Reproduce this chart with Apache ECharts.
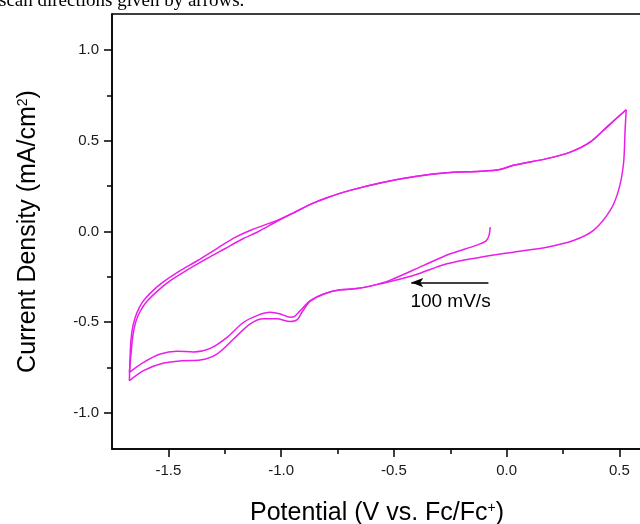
<!DOCTYPE html>
<html><head><meta charset="utf-8">
<script src="https://cdn.jsdelivr.net/npm/echarts@6/dist/echarts.min.js"></script>
<style>html,body{margin:0;padding:0;background:#fff;overflow:hidden}#c{width:640px;height:524px}</style>
</head><body><div id="c"></div>
<script>
// Potential (V vs Fc/Fc+), current density (mA/cm2)
const cycle1Cathodic = [
  [-0.073, 0.024], [-0.078, -0.020], [-0.090, -0.050], [-0.132, -0.075],
  [-0.250, -0.123], [-0.370, -0.188], [-0.516, -0.268], [-0.600, -0.300],
  [-0.664, -0.315], [-0.738, -0.322], [-0.812, -0.344], [-0.871, -0.381],
  [-0.915, -0.436], [-0.940, -0.468], [-0.960, -0.473], [-1.004, -0.455],
  [-1.048, -0.446], [-1.107, -0.464], [-1.168, -0.502], [-1.240, -0.584],
  [-1.314, -0.645], [-1.388, -0.665], [-1.462, -0.660], [-1.536, -0.676],
  [-1.610, -0.722], [-1.673, -0.777]
];
const cycle1Anodic = [
  [-1.673, -0.777], [-1.666, -0.680], [-1.658, -0.580], [-1.645, -0.500],
  [-1.625, -0.440], [-1.595, -0.385], [-1.550, -0.330], [-1.490, -0.270],
  [-1.420, -0.215], [-1.330, -0.150], [-1.250, -0.095], [-1.170, -0.040],
  [-1.100, 0.000], [-1.020, 0.055], [-0.950, 0.100], [-0.870, 0.150],
  [-0.800, 0.185], [-0.694, 0.227], [-0.546, 0.272], [-0.398, 0.305],
  [-0.250, 0.325], [-0.117, 0.332], [-0.030, 0.342], [0.030, 0.365],
  [0.178, 0.402], [0.282, 0.438], [0.370, 0.493], [0.444, 0.576],
  [0.530, 0.672]
];
const cycle2Cathodic = [
  [0.530, 0.672], [0.525, 0.558], [0.518, 0.374], [0.496, 0.227],
  [0.459, 0.116], [0.385, 0.006], [0.296, -0.050], [0.178, -0.087],
  [0.030, -0.114], [-0.117, -0.142], [-0.265, -0.178], [-0.414, -0.243],
  [-0.561, -0.289], [-0.664, -0.315], [-0.738, -0.322], [-0.812, -0.346],
  [-0.871, -0.385], [-0.905, -0.440], [-0.930, -0.488], [-0.960, -0.497],
  [-1.019, -0.482], [-1.079, -0.482], [-1.137, -0.510], [-1.211, -0.593],
  [-1.285, -0.676], [-1.359, -0.709], [-1.433, -0.713], [-1.536, -0.731],
  [-1.610, -0.768], [-1.673, -0.823]
];
const cycle2Anodic = [
  [-1.673, -0.823], [-1.670, -0.700], [-1.666, -0.600], [-1.657, -0.520],
  [-1.640, -0.450], [-1.615, -0.390], [-1.580, -0.340], [-1.530, -0.285],
  [-1.460, -0.225], [-1.370, -0.160], [-1.280, -0.090], [-1.200, -0.030],
  [-1.130, 0.010], [-1.020, 0.060], [-0.950, 0.100], [-0.870, 0.150],
  [-0.800, 0.185], [-0.694, 0.227], [-0.546, 0.272], [-0.398, 0.305],
  [-0.250, 0.325], [-0.117, 0.332], [-0.030, 0.342], [0.030, 0.365],
  [0.178, 0.402], [0.282, 0.438], [0.370, 0.493], [0.444, 0.576],
  [0.530, 0.672]
];
const xMajorTicks = [-1.5, -1.0, -0.5, 0.0, 0.5];
const xMinorTicks = [-1.25, -0.75, -0.25, 0.25];
const yMajorTicks = [-1.0, -0.5, 0.0, 0.5, 1.0];
const yMinorTicks = [-0.75, -0.25, 0.25, 0.75];
const arrowLine = [[-0.423, -0.282], [-0.081, -0.282]];
const arrowLabel = '100 mV/s';
const arrowLabelPos = [-0.427, -0.385];
const caption = 'scan directions given by arrows.';

const FONT = 'Arial, "Liberation Sans", sans-serif';
const LINE = '#ea1eea';
const chart = echarts.init(document.getElementById('c'), null, {renderer: 'canvas'});

function xAx(ticks, len, labels, line) {
  return {
    type: 'value', min: -1.75, max: 0.6, position: 'bottom',
    axisLine: {show: line, onZero: false, lineStyle: {color: '#000', width: 1.5}},
    axisTick: {show: true, inside: false, length: len, customValues: ticks, lineStyle: {color: '#000', width: 1.5}},
    axisLabel: {show: labels, customValues: ticks, formatter: v => v.toFixed(1), fontSize: 15, fontFamily: FONT, color: '#1a1a1a', margin: 14},
    splitLine: {show: false}
  };
}
function yAx(ticks, len, labels, line) {
  return {
    type: 'value', min: -1.2, max: 1.2, position: 'left',
    axisLine: {show: line, onZero: false, lineStyle: {color: '#000', width: 1.5}},
    axisTick: {show: true, inside: false, length: len, customValues: ticks, lineStyle: {color: '#000', width: 1.5}},
    axisLabel: {show: labels, customValues: ticks, formatter: v => v.toFixed(1), fontSize: 15, fontFamily: FONT, color: '#1a1a1a', margin: 13},
    splitLine: {show: false}
  };
}
const nameStyle = {fontSize: 25, fontFamily: FONT, color: '#000',
  rich: {t: {fontSize: 25, fontFamily: FONT, color: '#000'}, s: {fontSize: 14, fontFamily: FONT, color: '#000', verticalAlign: 'top'}}};
const xMain = xAx(xMajorTicks, 8, true, true);
xMain.name = '{t|Potential (V vs. Fc/Fc}{s|+}{t|)}';
xMain.nameLocation = 'middle';
xMain.nameGap = 52;
xMain.nameTextStyle = nameStyle;
const yMain = yAx(yMajorTicks, 8, true, true);
yMain.name = '{t|Current Density (mA/cm}{s|2}{t|)}';
yMain.nameLocation = 'middle';
yMain.nameGap = 71;
yMain.nameTextStyle = nameStyle;

function sweep(data) {
  return {type: 'line', data: data, showSymbol: false, smooth: 0.3, animation: false,
    lineStyle: {color: LINE, width: 1.5}, itemStyle: {color: LINE}, z: 3};
}
const s0 = sweep(cycle1Cathodic);
s0.markLine = {silent: true, animation: false, symbol: ['arrow', 'none'], symbolSize: [7, 12],
  lineStyle: {color: '#000', width: 1.5, type: 'solid'}, label: {show: false},
  data: [[{coord: arrowLine[0]}, {coord: arrowLine[1]}]]};
s0.markPoint = {silent: true, animation: false, symbol: 'circle', symbolSize: 0,
  label: {show: true, position: 'right', distance: 0, formatter: arrowLabel, color: '#000', fontSize: 19, fontFamily: FONT},
  data: [{coord: arrowLabelPos}]};

chart.setOption({
  animation: false,
  backgroundColor: '#fff',
  grid: {left: 112, top: 14, width: 530, height: 435, outerBoundsMode: 'none', containLabel: false,
    show: true, borderColor: '#000', borderWidth: 1.5, backgroundColor: 'transparent'},
  xAxis: [xMain, xAx(xMinorTicks, 5, false, false)],
  yAxis: [yMain, yAx(yMinorTicks, 5, false, false)],
  graphic: [{type: 'text', x: -1, y: 11, silent: true,
    style: {text: caption, font: '19px "Liberation Serif", "Times New Roman", serif', fill: '#000', verticalAlign: 'bottom'}}],
  series: [s0, sweep(cycle1Anodic), sweep(cycle2Cathodic), sweep(cycle2Anodic)]
});
</script>
</body></html>
